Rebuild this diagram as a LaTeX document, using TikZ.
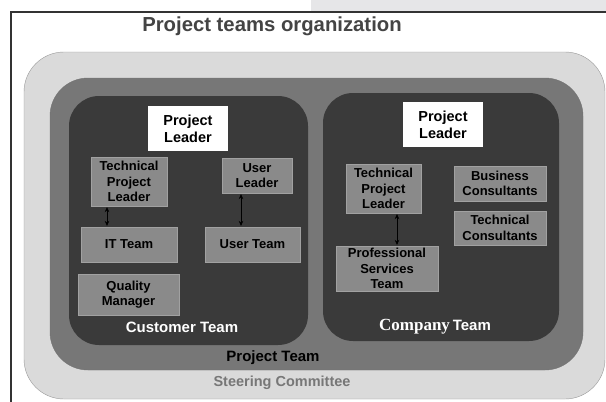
\documentclass[tikz,border=0pt]{standalone}
\usepackage{fontspec}
\setmainfont{Liberation Sans}
\newfontfamily\serifbold{Liberation Serif}
\usepackage{tikz}
\usetikzlibrary{arrows.meta}

\definecolor{steergray}{HTML}{DADADA}
\definecolor{teamgray}{HTML}{777777}
\definecolor{darkgray}{HTML}{3A3A3A}
\definecolor{boxgray}{HTML}{8A8A8A}
\definecolor{titlegray}{HTML}{444444}
\definecolor{tabgray}{HTML}{E6E6E8}

\begin{document}
\begin{tikzpicture}[x=1pt, y=-1pt,
    every node/.style={font=\bfseries, align=center, inner sep=0pt},
    ring/.style={rounded corners=#1},
    member/.style={fill=boxgray, draw=boxgray!80!white, line width=0.6pt, font=\bfseries\fontsize{13}{15.5}\selectfont},
    leader/.style={fill=white, font=\bfseries\fontsize{14.5}{17}\selectfont},
    link/.style={{Stealth[length=5pt,width=4.5pt]}-{Stealth[length=5pt,width=4.5pt]}, line width=0.9pt, shorten >=0.8pt, shorten <=0.8pt}]
    \useasboundingbox (0,0) rectangle (606,402);
    \fill[tabgray] (311,0) rectangle (606,12);
    \draw[line width=1.3pt, black!80] (606,12) -- (11,12) -- (11,402);

    % containers
    \node[ring=40pt, fill=steergray, draw=black!40, minimum width=581pt, minimum height=347pt] at (314.5,225.5) (steer) {};
    \node[ring=38pt, fill=teamgray, draw=black!55, minimum width=533pt, minimum height=292pt] at (316.5,224) (pteam) {};
    \node[ring=30pt, fill=darkgray, minimum width=239pt, minimum height=249pt] at (188.5,220.5) (cust) {};
    \node[ring=30pt, fill=darkgray, minimum width=236pt, minimum height=248pt] at (441,217) (comp) {};

    \node[text=titlegray, font=\bfseries\fontsize{20.3}{24}\selectfont] at (272,26) (title) {Project teams organization};

    % customer side
    \node[leader, minimum width=80pt, minimum height=45pt] at (188,128.5) (pl1) {Project\\Leader};
    \node[member, minimum width=76pt, minimum height=49pt] at (129,181.5) (tpl1) {Technical\\Project\\Leader};
    \node[member, minimum width=70pt, minimum height=35pt] at (257,175.5) (ul) {User\\Leader};
    \node[member, minimum width=96pt, minimum height=35pt] at (129,244.5) (it) {IT Team};
    \node[member, minimum width=95pt, minimum height=35pt] at (252.5,244.5) (ut) {User Team};
    \node[member, minimum width=101pt, minimum height=41pt] at (128.5,294.5) (qm) {Quality\\Manager};
    \node[text=white, font=\bfseries\fontsize{15}{18}\selectfont] at (182,327) (custlabel) {Customer Team};

    % company side
    \node[leader, minimum width=80pt, minimum height=45pt] at (443,124.5) (pl2) {Project\\Leader};
    \node[member, minimum width=75pt, minimum height=49pt] at (383.5,188.5) (tpl2) {Technical\\Project\\Leader};
    \node[member, minimum width=92pt, minimum height=35pt] at (500,183.5) (bc) {Business\\Consultants};
    \node[member, minimum width=92pt, minimum height=34pt] at (500,228) (tc) {Technical\\Consultants};
    \node[member, minimum width=102pt, minimum height=45pt] at (387,268.5) (pst) {Professional\\Services\\Team};
    \node[text=white] at (435,327) (complabel) {{\serifbold\fontsize{17}{18}\selectfont Company}\ {\rmfamily\bfseries\fontsize{15}{18}\selectfont Team}};

    \node[text=black, font=\bfseries\fontsize{15}{18}\selectfont] at (273,358) (ptlabel) {Project Team};
    \node[text=teamgray, font=\bfseries\fontsize{14.5}{18}\selectfont] at (282,383) (sclabel) {Steering Committee};

    \draw[link] ([xshift=-22pt]tpl1.south) -- ([xshift=-22pt]it.north);
    \draw[link] ([xshift=-16pt]ul.south) -- ([xshift=-11.5pt]ut.north);
    \draw[link] ([xshift=13.5pt]tpl2.south) -- ([xshift=10pt]pst.north);
\end{tikzpicture}
\end{document}
